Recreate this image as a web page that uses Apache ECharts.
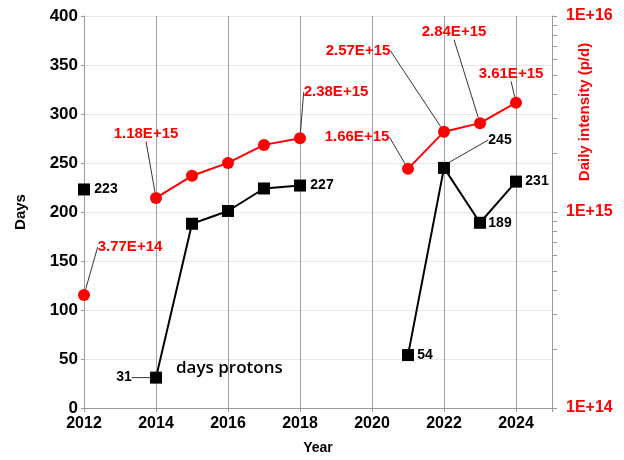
<!DOCTYPE html>
<html>
<head>
<meta charset="utf-8">
<script src="https://cdn.jsdelivr.net/npm/echarts@6/dist/echarts.min.js"></script>
<style>
  html, body { margin: 0; padding: 0; background: #fff; }
  #myChart { width: 624px; height: 460px; }
</style>
</head>
<body>
<div id="myChart"></div>
<script type="text/javascript">
// 数据
const years = [2012, 2014, 2015, 2016, 2017, 2018, 2021, 2022, 2023, 2024]
const days = [223, 31, 188, 201, 224, 227, 54, 245, 189, 231]
const intensity = [3.77e14, 1.18e15, 1.53e15, 1.78e15, 2.2e15, 2.38e15, 1.66e15, 2.57e15, 2.84e15, 3.61e15]
const intensityLabels = ['3.77E+14', '1.18E+15', '', '', '', '2.38E+15', '1.66E+15', '2.57E+15', '2.84E+15', '3.61E+15']
const daysLabels = ['223', '31', '', '', '', '227', '54', '245', '189', '231']
const rightTicks = [1e14, 2e14, 3e14, 4e14, 5e14, 6e14, 7e14, 8e14, 9e14,
  1e15, 2e15, 3e15, 4e15, 5e15, 6e15, 7e15, 8e15, 9e15, 1e16]
const rightLabels = [1e14, 1e15, 1e16]

// 标签偏移 (相对于点的中心)
const redOffsets = [[46, -48], [-10, -64], null, null, null, [36, -46], [-51, -32], [-86, -81], [-26, -91], [-5, -29]]
const blackOffsets = [[22, 0], [-32, 0], null, null, null, [22, 0], [17, 0], [56, -28], [20, 0], [21, 0]]
const redLeader = [true, true, false, false, false, true, true, true, true, true]
const blackLeader = [false, true, false, false, false, false, false, true, false, false]

const font = 'Liberation Sans, Arial, sans-serif'

function buildData(values, labels, offsets, leader, color, size) {
  const data = []
  const layout = []
  years.forEach((y, i) => {
    // 年份断开处插入空值
    if (i > 0 && y - years[i - 1] > 1) {
      data.push([years[i - 1] + 1, '-'])
      layout.push(null)
    }
    const item = {value: [y, values[i]]}
    if (labels[i]) {
      item.label = {
        show: true,
        position: 'inside',
        formatter: labels[i],
        color: color,
        fontFamily: font,
        fontWeight: 'bold',
        fontSize: size
      }
      item.labelLine = {show: leader[i], lineStyle: {color: '#000', width: 0.8}}
      layout.push(offsets[i])
    } else {
      layout.push(null)
    }
    data.push(item)
  })
  return {data, layout}
}

const red = buildData(intensity, intensityLabels, redOffsets, redLeader, '#ff0000', 15)
const black = buildData(days, daysLabels, blackOffsets, blackLeader, '#000', 14)

let myChart = echarts.init(document.getElementById('myChart'))
myChart.setOption({
  animation: false,
  grid: {left: 84, right: 72, top: 16, bottom: 52, outerBoundsMode: 'none', containLabel: false},
  xAxis: {
    type: 'value',
    min: 2012,
    max: 2025,
    interval: 2,
    name: 'Year',
    nameLocation: 'middle',
    nameGap: 33,
    nameTextStyle: {fontFamily: font, fontWeight: 'bold', fontSize: 14, color: '#000'},
    axisLine: {lineStyle: {color: '#999'}},
    axisTick: {show: true, length: 4, lineStyle: {color: '#999'}},
    axisLabel: {fontFamily: font, fontWeight: 'bold', fontSize: 16, color: '#000', margin: 8,
      formatter: v => v > 2024 ? '' : v},
    splitLine: {show: true, lineStyle: {color: '#a0a0a0', width: 1}}
  },
  yAxis: [
    {
      type: 'value',
      min: 0,
      max: 400,
      interval: 50,
      name: 'Days',
      nameLocation: 'middle',
      nameGap: 56,
      nameRotate: 90,
      nameTextStyle: {fontFamily: font, fontWeight: 'bold', fontSize: 15, color: '#000'},
      axisLine: {show: true, lineStyle: {color: '#999'}},
      axisTick: {show: true, length: 3, lineStyle: {color: '#999'}},
      axisLabel: {fontFamily: font, fontWeight: 'bold', fontSize: 17, color: '#000', margin: 6},
      splitLine: {show: true, lineStyle: {color: '#e8e8e8', width: 1}}
    },
    {
      type: 'log',
      logBase: 10,
      min: 1e14,
      max: 1e16,
      position: 'right',
      axisLine: {show: true, lineStyle: {color: '#999'}},
      axisTick: {show: true, length: 5, customValues: rightTicks, lineStyle: {color: '#999'}},
      axisLabel: {fontFamily: font, fontWeight: 'bold', fontSize: 16, color: '#ff0000', margin: 14,
        customValues: rightLabels,
        formatter: v => '1E+' + Math.round(Math.log10(v))},
      splitLine: {show: false}
    }
  ],
  graphic: [
    {
      type: 'text',
      left: 176,
      top: 360,
      style: {text: 'days protons', fontFamily: 'Open Sans', fontWeight: 600, fontSize: 17, fill: '#000'}
    },
    {
      // 右轴标题
      type: 'text',
      x: 585,
      y: 112,
      rotation: Math.PI / 2,
      style: {text: 'Daily intensity (p/d)', fontFamily: font, fontWeight: 'bold', fontSize: 15,
        fill: '#ff0000', textAlign: 'center', textVerticalAlign: 'middle'}
    }
  ],
  series: [
    {
      name: 'intensity',
      type: 'line',
      yAxisIndex: 1,
      symbol: 'circle',
      symbolSize: 12,
      itemStyle: {color: '#ff0000'},
      lineStyle: {color: '#ff0000', width: 2},
      labelLine: {show: true, lineStyle: {color: '#000', width: 0.8}},
      labelLayout: function (params) {
        const o = red.layout[params.dataIndex]
        return o ? {dx: o[0], dy: o[1]} : {}
      },
      data: red.data
    },
    {
      name: 'days',
      type: 'line',
      yAxisIndex: 0,
      symbol: 'rect',
      symbolSize: 12,
      itemStyle: {color: '#000'},
      lineStyle: {color: '#000', width: 2},
      labelLine: {show: true, lineStyle: {color: '#000', width: 0.8}},
      labelLayout: function (params) {
        const o = black.layout[params.dataIndex]
        return o ? {dx: o[0], dy: o[1]} : {}
      },
      data: black.data
    }
  ]
})
</script>
</body>
</html>
